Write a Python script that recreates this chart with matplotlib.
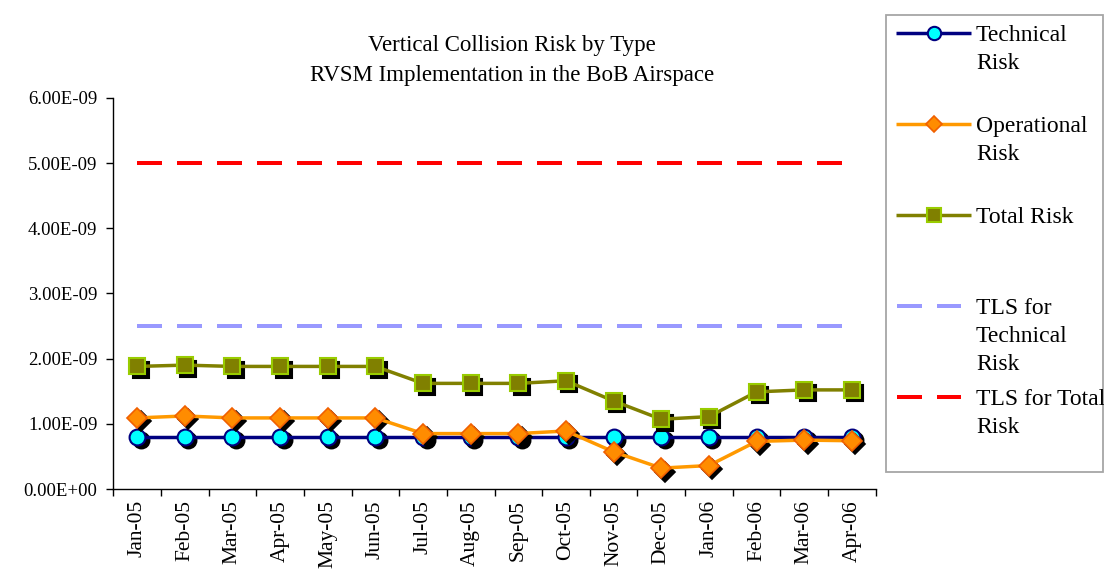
import numpy as np
import matplotlib
matplotlib.use("Agg")
import matplotlib.pyplot as plt
from matplotlib.transforms import offset_copy
from matplotlib.patches import Rectangle
from matplotlib.ticker import FuncFormatter

# ---------------- data ----------------
months = ["Jan-05", "Feb-05", "Mar-05", "Apr-05", "May-05", "Jun-05", "Jul-05", "Aug-05",
          "Sep-05", "Oct-05", "Nov-05", "Dec-05", "Jan-06", "Feb-06", "Mar-06", "Apr-06"]
technical_risk = [0.80e-9] * 16
operational_risk = [1.09e-9, 1.12e-9, 1.09e-9, 1.09e-9, 1.09e-9, 1.09e-9, 0.85e-9, 0.85e-9,
                    0.85e-9, 0.89e-9, 0.57e-9, 0.32e-9, 0.36e-9, 0.73e-9, 0.75e-9, 0.74e-9]
total_risk = [1.88e-9, 1.90e-9, 1.88e-9, 1.88e-9, 1.88e-9, 1.88e-9, 1.62e-9, 1.62e-9,
              1.62e-9, 1.66e-9, 1.35e-9, 1.07e-9, 1.11e-9, 1.49e-9, 1.52e-9, 1.52e-9]
tls_technical = [2.5e-9] * 16
tls_total = [5.0e-9] * 16
series_labels = ["Technical\nRisk", "Operational\nRisk", "Total Risk",
                 "TLS for\nTechnical\nRisk", "TLS for Total\nRisk"]
title_lines = ["Vertical Collision Risk by Type", "RVSM Implementation in the BoB Airspace"]
y_ticks = [0, 1e-9, 2e-9, 3e-9, 4e-9, 5e-9, 6e-9]

# ---------------- style ----------------
SERIF = ["Liberation Serif", "DejaVu Serif"]
plt.rcParams["font.family"] = SERIF
W, H = 1104, 574
fig = plt.figure(figsize=(W / 100, H / 100), dpi=100)
fig.patch.set_facecolor("white")

ax_l, ax_r, ax_b, ax_t = 113.3, 875.7, 489.0, 97.8
ax = fig.add_axes([ax_l / W, (H - ax_b) / H, (ax_r - ax_l) / W, (ax_b - ax_t) / H])

x = np.arange(len(months))
lw_series = 2.5
lw_tls = 2.88
dash = (6.25, 3.75)

styles = [
    dict(color="#000080", lw=lw_series, marker="o", ms=11.4, mfc="#00FFFF", mec="#000080", mew=1.5),
    dict(color="#FF9900", lw=lw_series, marker="D", ms=10.0, mfc="#FF8C00", mec="#F06000", mew=1.2),
    dict(color="#808000", lw=lw_series, marker="s", ms=11.2, mfc="#808000", mec="#99CC00", mew=1.5),
    dict(color="#9999FF", lw=lw_tls, dashes=dash),
    dict(color="#FF0000", lw=lw_tls, dashes=dash),
]
series = [technical_risk, operational_risk, total_risk, tls_technical, tls_total]

shadow_tr = offset_copy(ax.transData, fig=fig, x=3.5, y=-3.5, units="dots")

# TLS lines first (behind)
ax.plot(x, tls_technical, zorder=2, dash_capstyle="butt", **styles[3])
ax.plot(x, tls_total, zorder=2, dash_capstyle="butt", **styles[4])

for i, (vals, st) in enumerate(zip(series[:3], styles[:3])):
    z = 3 + 2 * i
    ax.plot(x, vals, linestyle="none", marker=st["marker"], ms=st["ms"], mfc="black",
            mec="black", mew=st["mew"], transform=shadow_tr, zorder=z)
    ax.plot(x, vals, zorder=z + 1, **st)

ax.set_xlim(-0.5, len(months) - 0.5)
ax.set_ylim(0, 6e-9)
ax.set_yticks(y_ticks)
ax.yaxis.set_major_formatter(FuncFormatter(lambda v, p: f"{v:.2E}"))
ax.set_xticks(np.arange(-0.5, len(months), 1.0))
ax.set_xticklabels([])
ax.set_xticks(x, minor=True)
ax.set_xticklabels(months, minor=True, rotation=90, fontsize=15.5, va="top")
ax.tick_params(axis="x", which="minor", length=0, pad=8)
ax.tick_params(axis="x", which="major", length=5, width=1.0, direction="out")
ax.tick_params(axis="y", length=5, width=1.0, direction="out", labelsize=13.5, pad=6.5)
for s in ["top", "right"]:
    ax.spines[s].set_visible(False)
for s in ["left", "bottom"]:
    ax.spines[s].set_linewidth(1.0)
    ax.spines[s].set_color("black")

# ---------------- title ----------------
fig.text(512 / W, 1 - 50.5 / H, title_lines[0], ha="center", va="baseline", fontsize=16.5)
fig.text(512 / W, 1 - 80.7 / H, title_lines[1], ha="center", va="baseline", fontsize=16.5)

# ---------------- legend (manual, pixel coordinates) ----------------
lax = fig.add_axes([0, 0, 1, 1], zorder=10)
lax.set_xlim(0, W)
lax.set_ylim(H, 0)
lax.axis("off")
lax.patch.set_alpha(0)
lax.add_patch(Rectangle((886, 15), 1102.5 - 886, 472 - 15, fill=False, ec="#A6A6A6", lw=1.3))

first_base, item_step, line_step, handle_off = 40.7, 91.0, 28.3, 7.5
legend_ms = [9.6, 8.2, 9.6]
for i, (lab, st) in enumerate(zip(series_labels, styles)):
    base = first_base + i * item_step
    hy = base - handle_off
    if i < 3:
        lax.plot([896, 971], [hy, hy], color=st["color"], lw=lw_series, solid_capstyle="butt")
        lax.plot([933.5], [hy], linestyle="none", marker=st["marker"], ms=legend_ms[i],
                 mfc=st["mfc"], mec=st["mec"], mew=st["mew"])
    else:
        lax.plot([897, 961], [hy, hy], color=st["color"], lw=lw_tls, dashes=dash,
                 dash_capstyle="butt")
    for j, line in enumerate(lab.split("\n")):
        lax.text(976, base + j * line_step, line, ha="left", va="baseline", fontsize=17)

fig.savefig("out.png", dpi=100, facecolor="white")
